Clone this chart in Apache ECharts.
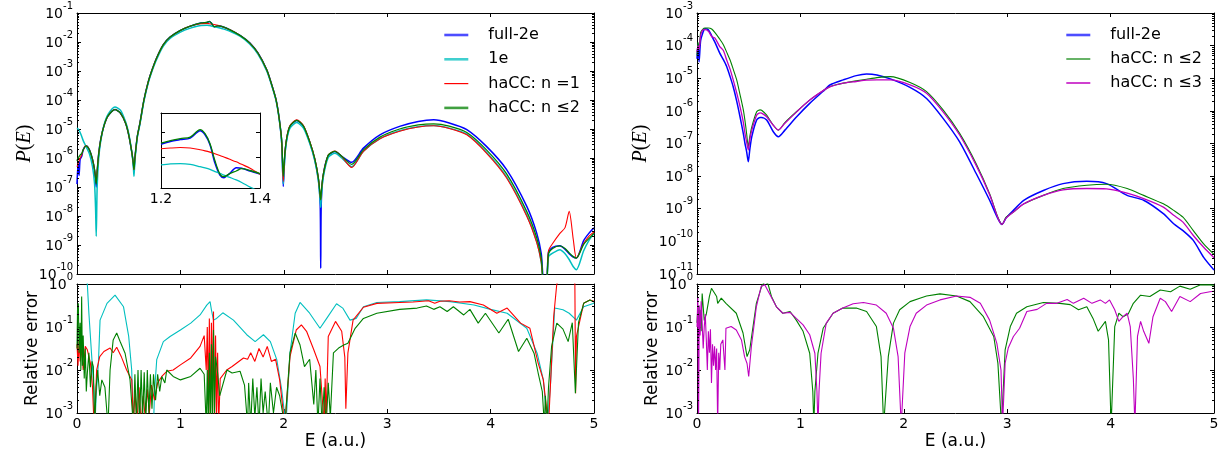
<!DOCTYPE html>
<html>
<head>
<meta charset="utf-8">
<script src="https://cdn.jsdelivr.net/npm/echarts@6.0.0/dist/echarts.min.js"></script>
<style>
  html, body { margin: 0; padding: 0; background: #fff; }
  #chart { width: 1222px; height: 456px; }
</style>
</head>
<body>
<div id="chart"></div>
<script>
// Photoelectron spectra P(E) (log10 values) and their relative errors.

// ---- left panel: full-2e, 1e, haCC n=1, haCC n<=2 ----
const energyLeft = [
  0, 0.01, 0.02, 0.03, 0.045, 0.06, 0.087, 0.12, 0.15, 0.17,
  0.18, 0.186, 0.195, 0.21, 0.23, 0.26, 0.3, 0.367, 0.42, 0.47,
  0.5, 0.53, 0.545, 0.551, 0.56, 0.583, 0.609, 0.648, 0.69, 0.722,
  0.77, 0.835, 0.9, 1.0, 1.09, 1.2, 1.259, 1.279, 1.299, 1.327, 1.363, 1.4, 1.48,
  1.58, 1.67, 1.75, 1.835, 1.883, 1.925, 1.957, 1.98, 1.995, 2.01,
  2.03, 2.06, 2.125, 2.19, 2.253, 2.3, 2.335, 2.352, 2.357, 2.362,
  2.38, 2.43, 2.495, 2.56, 2.656, 2.77, 2.93, 3.12, 3.3, 3.45,
  3.6, 3.77, 3.96, 4.155, 4.35, 4.446, 4.49, 4.515, 4.54, 4.56,
  4.6, 4.67, 4.72, 4.76, 4.8, 4.83, 4.9, 4.95, 5.0
];
const logFull2eLeft = [
  -6.9, -6.2, -6.6, -6.05, -5.95, -5.72, -5.58, -5.72, -6.05, -6.45,
  -6.8, -7.0, -6.5, -5.85, -5.35, -4.9, -4.55, -4.33, -4.45, -4.8,
  -5.2, -5.8, -6.2, -6.45, -6.0, -5.26, -4.79, -3.99, -3.36, -3.0,
  -2.55, -2.09, -1.83, -1.6, -1.46, -1.347, -1.323, -1.294, -1.349, -1.478, -1.441, -1.464, -1.58,
  -1.78, -2.03, -2.38, -2.96, -3.47, -3.99, -4.68, -5.48, -6.98, -5.9,
  -5.3, -4.91, -4.71, -4.91, -5.48, -6.06, -6.75, -7.6, -9.8, -7.6,
  -6.63, -5.92, -5.78, -5.94, -6.15, -5.66, -5.2, -4.91, -4.74, -4.68,
  -4.79, -5.02, -5.6, -6.4, -7.67, -8.59, -9.3, -10.3, -10.3, -9.25,
  -9.08, -9.03, -9.15, -9.3, -9.42, -9.45, -8.85, -8.6, -8.41
];
const log1eLeft = [
  -4.97, -5.0, -5.05, -5.12, -5.25, -5.4, -5.6, -5.85, -6.3, -6.9,
  -7.8, -8.7, -7.0, -6.0, -5.4, -4.88, -4.5, -4.24, -4.35, -4.75,
  -5.15, -5.8, -6.3, -6.63, -6.1, -5.3, -4.83, -4.03, -3.4, -3.04,
  -2.6, -2.14, -1.88, -1.66, -1.53, -1.428, -1.426, -1.435, -1.446, -1.468, -1.497, -1.534, -1.63,
  -1.81, -2.07, -2.42, -3.0, -3.5, -4.02, -4.7, -5.5, -6.9, -5.95,
  -5.35, -4.97, -4.78, -4.97, -5.52, -6.1, -6.8, -7.5, -7.7, -7.4,
  -6.7, -5.98, -5.84, -6.0, -6.3, -5.77, -5.33, -5.06, -4.92, -4.88,
  -4.97, -5.18, -5.8, -6.65, -7.97, -8.88, -9.6, -10.4, -10.4, -9.4,
  -9.28, -9.16, -9.3, -9.5, -9.75, -9.85, -9.2, -8.85, -8.6
];
const logHaccN1Left = [
  -6.3, -6.2, -6.1, -6.0, -5.9, -5.72, -5.58, -5.72, -6.05, -6.4,
  -6.7, -6.85, -6.45, -5.85, -5.35, -4.9, -4.55, -4.33, -4.45, -4.8,
  -5.2, -5.8, -6.2, -6.4, -6.0, -5.26, -4.79, -3.99, -3.36, -3.0,
  -2.55, -2.09, -1.83, -1.6, -1.46, -1.365, -1.362, -1.369, -1.378, -1.397, -1.426, -1.465, -1.58,
  -1.78, -2.03, -2.38, -2.96, -3.47, -3.99, -4.68, -5.45, -6.81, -5.85,
  -5.25, -4.88, -4.68, -4.88, -5.45, -6.02, -6.7, -7.3, -7.44, -7.2,
  -6.6, -5.9, -5.76, -5.95, -6.33, -5.77, -5.34, -5.08, -4.93, -4.89,
  -4.98, -5.2, -5.83, -6.69, -8.01, -8.92, -9.6, -10.4, -10.4, -9.2,
  -8.95, -8.6, -8.4, -7.84, -8.82, -9.45, -8.95, -8.7, -8.55
];
const logHaccN2Left = [
  -6.1, -6.0, -5.95, -5.9, -5.85, -5.72, -5.58, -5.72, -6.05, -6.4,
  -6.7, -6.9, -6.45, -5.85, -5.35, -4.9, -4.55, -4.33, -4.45, -4.8,
  -5.2, -5.8, -6.2, -6.4, -6.0, -5.26, -4.79, -3.99, -3.36, -3.0,
  -2.55, -2.09, -1.83, -1.6, -1.46, -1.343, -1.319, -1.29, -1.345, -1.474, -1.443, -1.462, -1.58,
  -1.78, -2.03, -2.38, -2.96, -3.47, -3.99, -4.68, -5.4, -6.63, -5.85,
  -5.28, -4.9, -4.7, -4.9, -5.46, -6.03, -6.7, -7.3, -7.44, -7.2,
  -6.6, -5.9, -5.77, -5.94, -6.22, -5.72, -5.28, -5.0, -4.86, -4.82,
  -4.9, -5.12, -5.72, -6.55, -7.85, -8.75, -9.45, -10.4, -10.4, -9.3,
  -9.12, -9.03, -9.12, -9.27, -9.4, -9.45, -8.98, -8.78, -8.6
];

// ---- inset: the main peak between E = 1.2 and 1.4 ----
const energyInset = [1.2, 1.219, 1.239, 1.259, 1.279, 1.289, 1.299, 1.309, 1.319, 1.327, 1.339, 1.352, 1.363, 1.38, 1.4];
const logFull2eInset = [-1.347, -1.336, -1.329, -1.323, -1.294, -1.31, -1.349, -1.421, -1.468, -1.478, -1.461, -1.439, -1.441, -1.452, -1.464];
const log1eInset     = [-1.428, -1.424, -1.423, -1.426, -1.435, -1.44, -1.446, -1.454, -1.461, -1.468, -1.477, -1.487, -1.497, -1.515, -1.534];
const logHaccN1Inset = [-1.365, -1.362, -1.36, -1.362, -1.369, -1.373, -1.378, -1.384, -1.391, -1.397, -1.406, -1.416, -1.426, -1.441, -1.465];
const logHaccN2Inset = [-1.343, -1.333, -1.325, -1.319, -1.29, -1.306, -1.345, -1.412, -1.464, -1.474, -1.462, -1.452, -1.443, -1.45, -1.462];
const insetTicks = [0.04, 0.05];

// ---- left relative errors: [E, log10(error)] ----
const relErr1e = [
  [0,0.6],[0.05,0.5],[0.09,0.1],[0.1,0],[0.115,-0.68],[0.14,-1.6],[0.165,-2.5],[0.174,-3.3],[0.185,-2.6],
  [0.207,-1.84],[0.223,-0.84],[0.29,-0.45],[0.368,-0.26],[0.45,-0.53],[0.5,-1.22],[0.529,-2.0],[0.545,-3.3],
  [0.74,-3.3],[0.75,-2.5],[0.771,-1.76],[0.835,-1.34],[0.9,-1.22],[1.0,-1.07],[1.1,-0.91],[1.19,-0.72],
  [1.255,-0.49],[1.287,-0.41],[1.3,-0.6],[1.32,-0.84],[1.35,-0.8],[1.41,-0.67],[1.513,-0.84],[1.642,-1.18],
  [1.723,-1.34],[1.803,-1.18],[1.87,-1.34],[1.932,-1.76],[1.98,-2.46],[2.02,-3.3],[2.06,-1.6],[2.11,-0.68],
  [2.157,-0.43],[2.25,-0.68],[2.35,-1.03],[2.415,-0.8],[2.51,-0.46],[2.57,-0.56],[2.64,-0.84],[2.7,-0.8],
  [2.77,-0.53],[2.9,-0.43],[3.12,-0.41],[3.38,-0.37],[3.61,-0.41],[3.84,-0.49],[4.0,-0.59],[4.16,-0.68],
  [4.35,-1.03],[4.45,-1.61],[4.51,-2.23],[4.55,-3.3],[4.58,-2.3],[4.62,-0.56],[4.7,-0.6],[4.76,-0.68],
  [4.83,-0.84],[4.9,-0.53],[5.0,-0.45]
];
const relErrN1 = [
  [0,-1.4],[0.01,-1.9],[0.02,-1.3],[0.03,-1.8],[0.045,-1.5],[0.06,-2.0],[0.08,-1.45],[0.1,-1.53],[0.13,-1.84],
  [0.15,-2.4],[0.165,-3.3],[0.175,-2.9],[0.19,-2.0],[0.22,-1.69],[0.26,-1.57],[0.32,-1.49],[0.35,-1.6],
  [0.384,-1.47],[0.43,-1.7],[0.48,-2.0],[0.53,-2.23],[0.545,-3.3],[0.56,-2.5],[0.58,-3.2],[0.6,-2.4],
  [0.62,-3.3],[0.64,-2.6],[0.66,-3.1],[0.68,-2.45],[0.7,-3.0],[0.72,-2.35],[0.75,-2.7],[0.78,-2.3],
  [0.82,-2.15],[0.868,-2.03],[0.93,-2.0],[1.0,-1.88],[1.1,-1.72],[1.19,-1.45],[1.23,-1.2],[1.25,-2.0],
  [1.26,-1.0],[1.27,-2.8],[1.28,-0.8],[1.29,-3.3],[1.3,-0.9],[1.31,-2.5],[1.32,-0.64],[1.33,-3.3],
  [1.34,-1.2],[1.35,-3.0],[1.36,-1.6],[1.37,-3.3],[1.385,-2.2],[1.448,-2.0],[1.5,-1.92],[1.61,-1.72],
  [1.65,-1.75],[1.68,-1.6],[1.72,-1.8],[1.76,-1.5],[1.8,-1.7],[1.84,-1.45],[1.88,-1.8],[1.92,-1.75],
  [1.96,-2.23],[2.01,-3.3],[2.06,-1.69],[2.12,-1.07],[2.17,-0.95],[2.22,-1.1],[2.29,-1.53],[2.35,-1.92],
  [2.37,-2.6],[2.39,-3.3],[2.4,-2.2],[2.41,-3.1],[2.43,-1.22],[2.5,-0.87],[2.56,-1.1],[2.59,-1.7],
  [2.6,-2.9],[2.62,-1.6],[2.67,-0.84],[2.77,-0.54],[2.9,-0.45],[3.12,-0.43],[3.25,-0.42],[3.4,-0.39],
  [3.46,-0.45],[3.51,-0.4],[3.6,-0.39],[3.7,-0.42],[3.8,-0.41],[3.93,-0.49],[4.06,-0.68],[4.16,-0.56],
  [4.29,-0.91],[4.38,-1.03],[4.46,-1.84],[4.51,-2.23],[4.56,-3.3],[4.61,-0.76],[4.64,0.0],[4.7,0.3],
  [4.8,0.3],[4.815,0.0],[4.822,-2.54],[4.83,-1.22],[4.9,-0.45],[4.96,-0.37],[5.0,-0.4]
];
const relErrN2Left = [
  [0,-1.5],[0.005,-0.6],[0.013,-0.45],[0.02,-1.6],[0.03,-0.9],[0.037,-2.0],[0.045,-0.29],[0.052,-1.9],
  [0.06,-1.2],[0.07,-2.2],[0.08,-1.5],[0.09,-2.5],[0.1,-2.07],[0.115,-1.6],[0.13,-2.4],[0.145,-1.8],
  [0.158,-1.92],[0.17,-3.3],[0.185,-2.4],[0.2,-2.0],[0.22,-2.6],[0.24,-2.23],[0.27,-2.4],[0.29,-3.0],
  [0.3,-3.3],[0.32,-2.0],[0.35,-1.3],[0.384,-1.14],[0.416,-1.33],[0.465,-1.61],[0.513,-2.23],[0.545,-3.3],
  [0.56,-2.1],[0.575,-3.2],[0.59,-2.0],[0.605,-3.3],[0.62,-2.0],[0.635,-3.1],[0.65,-2.05],[0.665,-3.2],
  [0.68,-2.0],[0.695,-3.0],[0.71,-2.1],[0.725,-2.9],[0.74,-2.1],[0.76,-2.7],[0.78,-2.1],[0.8,-2.5],
  [0.82,-2.15],[0.85,-2.3],[0.868,-2.0],[0.93,-2.15],[1.0,-2.23],[1.1,-2.15],[1.19,-1.96],[1.23,-2.1],
  [1.25,-3.3],[1.26,-2.0],[1.27,-3.3],[1.28,-1.6],[1.29,-3.3],[1.3,-1.4],[1.31,-3.3],[1.32,-1.07],
  [1.33,-3.0],[1.34,-1.69],[1.36,-2.07],[1.38,-2.6],[1.45,-2.0],[1.5,-2.07],[1.577,-2.03],[1.62,-2.35],
  [1.65,-3.3],[1.66,-2.3],[1.68,-3.3],[1.7,-2.2],[1.72,-3.1],[1.74,-2.4],[1.76,-3.3],[1.78,-2.2],
  [1.8,-3.0],[1.82,-2.5],[1.85,-3.3],[1.87,-2.3],[1.9,-3.0],[1.93,-2.4],[1.96,-2.6],[2.01,-3.3],
  [2.06,-1.6],[2.11,-1.14],[2.157,-1.42],[2.2,-1.92],[2.25,-1.75],[2.29,-2.8],[2.31,-2.0],[2.33,-3.3],
  [2.35,-2.2],[2.37,-3.3],[2.39,-2.4],[2.41,-3.3],[2.43,-2.3],[2.45,-3.1],[2.48,-1.6],[2.53,-1.49],
  [2.58,-1.42],[2.62,-1.38],[2.69,-1.03],[2.77,-0.8],[2.9,-0.68],[3.12,-0.59],[3.29,-0.56],[3.38,-0.51],
  [3.45,-0.59],[3.51,-0.53],[3.58,-0.64],[3.64,-0.53],[3.74,-0.72],[3.8,-0.59],[3.88,-0.91],[3.95,-0.68],
  [4.08,-1.14],[4.17,-0.82],[4.27,-1.57],[4.35,-1.26],[4.42,-1.61],[4.46,-2.07],[4.5,-2.5],[4.52,-3.3],
  [4.53,-2.6],[4.545,-3.3],[4.56,-2.4],[4.59,-1.45],[4.64,-0.91],[4.7,-1.05],[4.75,-1.34],[4.79,-0.9],
  [4.82,-2.54],[4.85,-0.9],[4.9,-0.45],[4.96,-0.37],[5.0,-0.42]
];

// ---- right panel: full-2e, haCC n<=2, haCC n<=3 ----
const energyRight = [
  0, 0.01, 0.02, 0.035, 0.055, 0.077, 0.11, 0.142, 0.174, 0.22,
  0.255, 0.287, 0.32, 0.35, 0.384, 0.416, 0.448, 0.464, 0.48, 0.496,
  0.51, 0.53, 0.577, 0.61, 0.625, 0.674, 0.738, 0.787, 0.85, 0.964,
  1.09, 1.22, 1.29, 1.415, 1.54, 1.64, 1.74, 1.87, 2.06, 2.22,
  2.38, 2.54, 2.70, 2.83, 2.91, 2.95, 2.99, 3.06, 3.16, 3.35,
  3.54, 3.77, 3.96, 4.16, 4.32, 4.51, 4.61, 4.70, 4.80, 4.90,
  5.0
];
const logFull2eRight = [
  -4.4, -3.95, -4.5, -3.85, -3.62, -3.48, -3.51, -3.7, -3.9, -4.23,
  -4.43, -4.64, -4.95, -5.26, -5.7, -6.18, -6.7, -7.0, -7.25, -7.56,
  -7.2, -6.79, -6.28, -6.2, -6.2, -6.28, -6.64, -6.79, -6.59, -6.18,
  -5.77, -5.4, -5.2, -5.05, -4.92, -4.87, -4.9, -5.02, -5.28, -5.62,
  -6.23, -6.95, -7.92, -8.74, -9.3, -9.48, -9.28, -9.05, -8.74, -8.44,
  -8.23, -8.16, -8.23, -8.59, -8.74, -9.15, -9.46, -9.67, -9.97, -10.49,
  -10.88
];
const logHaccN2Right = [
  -4.3, -3.9, -4.1, -3.6, -3.5, -3.46, -3.46, -3.49, -3.6, -3.8,
  -3.97, -4.2, -4.44, -4.72, -5.05, -5.5, -5.97, -6.3, -6.7, -7.1,
  -6.8, -6.49, -6.03, -5.97, -5.98, -6.13, -6.44, -6.59, -6.36, -6.02,
  -5.67, -5.38, -5.25, -5.15, -5.08, -5.03, -4.98, -4.95, -5.13, -5.41,
  -5.97, -6.69, -7.62, -8.54, -9.26, -9.48, -9.26, -9.1, -8.85, -8.59,
  -8.38, -8.28, -8.25, -8.38, -8.59, -8.85, -9.05, -9.26, -9.67, -10.08,
  -10.4
];
const logHaccN3Right = [
  -4.2, -4.0, -4.13, -3.7, -3.52, -3.51, -3.56, -3.72, -3.77, -4.03,
  -4.15, -4.44, -4.72, -5.05, -5.45, -5.87, -6.35, -6.69, -6.95, -7.2,
  -6.9, -6.59, -6.13, -6.06, -6.07, -6.18, -6.44, -6.59, -6.38, -6.03,
  -5.67, -5.38, -5.26, -5.15, -5.1, -5.06, -5.05, -5.05, -5.2, -5.46,
  -6.03, -6.74, -7.67, -8.57, -9.28, -9.48, -9.28, -9.1, -8.85, -8.59,
  -8.42, -8.38, -8.39, -8.52, -8.69, -8.95, -9.2, -9.41, -9.82, -10.18,
  -10.5
];

// ---- right relative errors: [E, log10(error)] ----
const relErrN2Right = [
  [0,-0.9],[0.01,-0.5],[0.02,-1.0],[0.03,-0.6],[0.04,-1.1],[0.05,-0.22],[0.07,-0.85],[0.09,-0.7],
  [0.12,-0.29],[0.14,-0.1],[0.19,-0.29],[0.2,-0.45],[0.235,-0.33],[0.28,-0.45],[0.38,-0.68],[0.445,-1.14],
  [0.484,-1.69],[0.51,-1.53],[0.574,-0.45],[0.63,-0.02],[0.66,0.05],[0.687,0.0],[0.72,-0.29],[0.768,-0.53],
  [0.83,-0.68],[0.9,-0.64],[0.96,-0.84],[1.026,-1.1],[1.09,-1.61],[1.12,-2.5],[1.13,-3.3],[1.14,-2.5],
  [1.17,-1.61],[1.22,-1.03],[1.316,-0.68],[1.41,-0.56],[1.54,-0.56],[1.64,-0.64],[1.735,-0.99],[1.78,-1.69],
  [1.805,-3.3],[1.815,-3.3],[1.85,-1.69],[1.9,-0.91],[1.96,-0.6],[2.06,-0.41],[2.155,-0.33],[2.22,-0.28],
  [2.35,-0.23],[2.51,-0.28],[2.64,-0.41],[2.77,-0.76],[2.87,-1.22],[2.91,-1.84],[2.945,-3.3],[2.955,-3.3],
  [2.98,-1.53],[3.03,-0.99],[3.09,-0.68],[3.19,-0.53],[3.35,-0.43],[3.51,-0.45],[3.61,-0.48],[3.69,-0.6],
  [3.77,-0.53],[3.83,-0.8],[3.88,-1.1],[3.95,-0.87],[3.98,-1.3],[4.005,-3.3],[4.015,-3.3],[4.04,-0.99],
  [4.08,-0.68],[4.12,-0.76],[4.17,-0.7],[4.22,-0.45],[4.29,-0.26],[4.38,-0.29],[4.48,-0.14],[4.58,-0.18],
  [4.67,-0.05],[4.77,-0.12],[4.87,-0.02],[4.96,-0.02],[5.0,-0.03]
];
const relErrN3Right = [
  [0,-1.0],[0.008,-0.3],[0.015,-3.3],[0.022,-0.5],[0.03,-1.2],[0.04,-0.4],[0.05,-0.9],[0.06,-1.5],
  [0.07,-1.0],[0.08,-0.7],[0.09,-1.3],[0.1,-2.0],[0.11,-1.1],[0.12,-1.6],[0.13,-1.05],[0.14,-2.3],
  [0.15,-1.4],[0.16,-1.9],[0.17,-1.45],[0.18,-2.0],[0.19,-1.5],[0.2,-3.3],[0.21,-1.6],[0.22,-2.0],
  [0.23,-1.4],[0.25,-1.3],[0.27,-2.0],[0.28,-1.03],[0.33,-0.99],[0.38,-1.07],[0.43,-1.3],[0.46,-1.69],
  [0.484,-1.85],[0.5,-2.15],[0.526,-1.45],[0.574,-0.53],[0.62,-0.06],[0.655,-0.02],[0.7,-0.22],[0.768,-0.53],
  [0.83,-0.68],[0.9,-0.66],[0.96,-0.8],[1.026,-0.95],[1.09,-1.18],[1.14,-1.61],[1.16,-2.5],[1.17,-3.3],
  [1.18,-2.5],[1.2,-1.61],[1.25,-0.91],[1.316,-0.68],[1.41,-0.56],[1.51,-0.46],[1.61,-0.43],[1.735,-0.49],
  [1.83,-0.68],[1.9,-1.03],[1.945,-1.69],[1.975,-3.3],[1.985,-3.3],[2.01,-1.6],[2.06,-0.99],[2.12,-0.68],
  [2.22,-0.49],[2.35,-0.37],[2.51,-0.28],[2.64,-0.31],[2.74,-0.45],[2.83,-0.84],[2.9,-1.38],[2.94,-2.0],
  [2.955,-3.3],[2.965,-3.3],[2.98,-1.84],[3.01,-1.49],[3.06,-1.22],[3.12,-1.03],[3.19,-0.64],[3.29,-0.59],
  [3.38,-0.45],[3.48,-0.45],[3.58,-0.36],[3.64,-0.45],[3.74,-0.33],[3.82,-0.45],[3.9,-0.37],[3.95,-0.45],
  [3.99,-0.37],[4.04,-0.6],[4.08,-0.87],[4.12,-0.76],[4.16,-0.68],[4.19,-0.99],[4.22,-2.2],[4.235,-3.3],
  [4.245,-3.3],[4.26,-1.22],[4.29,-0.87],[4.32,-1.1],[4.37,-1.38],[4.41,-0.76],[4.48,-0.33],[4.53,-0.41],
  [4.59,-0.64],[4.67,-0.29],[4.77,-0.41],[4.87,-0.22],[4.96,-0.18],[5.0,-0.17]
];

// ---- helpers ----
const FONT = 'DejaVu Sans';
const C = { blue: '#0000ff', cyan: '#00bfbf', red: '#ff0000', green: '#008000', magenta: '#bf00bf' };

function curve(E, logs) {
  if (E.length !== logs.length) throw new Error('length mismatch ' + E.length + ' vs ' + logs.length);
  return E.map((e, i) => [e, Math.pow(10, logs[i])]);
}
function pairs(list) { return list.map(p => [p[0], Math.pow(10, p[1])]); }

function line(name, data, color, width, g, smooth) {
  return {
    type: 'line', name, data, xAxisIndex: 2 * g, yAxisIndex: 2 * g,
    symbol: 'none', showSymbol: false, smooth: smooth || false, clip: true,
    lineStyle: { color, width }, itemStyle: { color }, emphasis: { disabled: true },
    silent: true, z: 3
  };
}

// minor ticks m*10^k for a log axis
function minorTicks(kLo, kHi) {
  const t = [];
  for (let k = kLo; k < kHi; k++) for (let m = 2; m <= 9; m++) t.push(m * Math.pow(10, k));
  return t;
}
function tickSeries(g, values, x0, x1, len) {
  return {
    type: 'custom', coordinateSystem: 'cartesian2d', xAxisIndex: 2 * g, yAxisIndex: 2 * g,
    silent: true, z: 6, clip: false,
    data: values.map(v => [x0, v]),
    renderItem: (params, api) => {
      const v = api.value(1);
      const a = api.coord([x0, v]);
      const b = api.coord([x1, v]);
      const y = Math.round(a[1]) + 0.5;
      return {
        type: 'group', children: [
          { type: 'line', shape: { x1: a[0], y1: y, x2: a[0] + len, y2: y }, style: { stroke: '#000', lineWidth: 1 } },
          { type: 'line', shape: { x1: b[0], y1: y, x2: b[0] - len, y2: y }, style: { stroke: '#000', lineWidth: 1 } }
        ]
      };
    }
  };
}

const axisLine = { show: true, onZero: false, lineStyle: { color: '#000', width: 1 } };
const majorTick = { show: true, inside: true, length: 4, lineStyle: { color: '#000', width: 1 } };

function xAxes(g, min, max, interval, labels, name) {
  const base = { type: 'value', gridIndex: g, min, max, interval, splitLine: { show: false }, axisLine, axisTick: majorTick };
  return [
    Object.assign({}, base, {
      position: 'bottom',
      axisLabel: labels ? { show: true, color: '#000', fontFamily: FONT, fontSize: 14, margin: 4,
        formatter: v => (interval < 1 ? v.toFixed(1) : String(v)) } : { show: false },
      name: name || '', nameLocation: 'middle', nameGap: 20,
      nameTextStyle: { color: '#000', fontFamily: FONT, fontSize: 17 }
    }),
    Object.assign({}, base, { position: 'top', axisLabel: { show: false } })
  ];
}

const logLabel = {
  show: true, margin: 4, padding: [0, 0, 4, 0],
  formatter: v => '{b|10}{s|' + Math.round(Math.log10(v)) + '}',
  rich: {
    b: { fontFamily: FONT, fontSize: 14, lineHeight: 20, verticalAlign: 'bottom', color: '#000' },
    s: { fontFamily: FONT, fontSize: 10, lineHeight: 12, verticalAlign: 'top', color: '#000' }
  }
};
const serifRich = {
  i: { fontFamily: 'Liberation Serif', fontStyle: 'italic', fontSize: 20, color: '#000' },
  r: { fontFamily: 'Liberation Serif', fontSize: 20, color: '#000' }
};

function yAxes(g, min, max, opts) {
  opts = opts || {};
  const base = { type: 'log', logBase: 10, gridIndex: g, min, max, splitLine: { show: false }, axisLine,
    axisTick: opts.noTicks ? { show: false } : majorTick };
  const left = Object.assign({}, base, {
    position: 'left',
    axisLabel: opts.noLabels ? { show: false } : logLabel,
    name: opts.name || '', nameLocation: 'middle', nameGap: opts.nameGap || 40,
    nameTextStyle: opts.serif ? { rich: serifRich } : { color: '#000', fontFamily: FONT, fontSize: 17 }
  });
  const right = Object.assign({}, base, { position: 'right', axisLabel: { show: false } });
  return [left, right];
}

// ---- layout ----
const grids = [
  { left: 77, top: 13, width: 517, height: 261 },   // left P(E)
  { left: 77, top: 284, width: 517, height: 129 },  // left relative error
  { left: 697, top: 13, width: 517, height: 261 },  // right P(E)
  { left: 697, top: 284, width: 517, height: 129 }, // right relative error
  { left: 161, top: 113, width: 99, height: 75, show: true, backgroundColor: '#fff', borderWidth: 0 } // inset
].map(g => Object.assign({ containLabel: false, outerBoundsMode: 'none' }, g));

const xAxis = [].concat(
  xAxes(0, 0, 5, 1, false),
  xAxes(1, 0, 5, 1, true, 'E (a.u.)'),
  xAxes(2, 0, 5, 1, false),
  xAxes(3, 0, 5, 1, true, 'E (a.u.)'),
  xAxes(4, 1.2, 1.4, 0.2, true)
);
const yAxis = [].concat(
  yAxes(0, 1e-10, 1e-1, { name: '{i|P}{r|(}{i|E}{r|)}', serif: true, nameGap: 40 }),
  yAxes(1, 1e-3, 1, { name: 'Relative error', nameGap: 36 }),
  yAxes(2, 1e-11, 1e-3, { name: '{i|P}{r|(}{i|E}{r|)}', serif: true, nameGap: 46 }),
  yAxes(3, 1e-3, 1, { name: 'Relative error', nameGap: 36 }),
  yAxes(4, 0.0303, 0.0596, { noLabels: true, noTicks: true })
);

const series = [
  line('full-2e', curve(energyLeft, logFull2eLeft), C.blue, 1.5, 0, 0.25),
  line('1e', curve(energyLeft, log1eLeft), C.cyan, 1.5, 0, 0.25),
  line('haCC: n =1', curve(energyLeft, logHaccN1Left), C.red, 1.1, 0, 0.25),
  line('haCC: n ≤2', curve(energyLeft, logHaccN2Left), C.green, 1.3, 0, 0.25),

  line('1e', pairs(relErr1e), C.cyan, 1.1, 1),
  line('haCC: n =1', pairs(relErrN1), C.red, 1.1, 1),
  line('haCC: n ≤2', pairs(relErrN2Left), C.green, 1.1, 1),

  line('full-2e', curve(energyRight, logFull2eRight), C.blue, 1.5, 2, 0.25),
  line('haCC: n ≤2', curve(energyRight, logHaccN2Right), C.green, 1.1, 2, 0.25),
  line('haCC: n ≤3', curve(energyRight, logHaccN3Right), C.magenta, 1.3, 2, 0.25),

  line('haCC: n ≤2', pairs(relErrN2Right), C.green, 1.1, 3),
  line('haCC: n ≤3', pairs(relErrN3Right), C.magenta, 1.1, 3),

  line('full-2e', curve(energyInset, logFull2eInset), C.blue, 1.5, 4, 0.3),
  line('1e', curve(energyInset, log1eInset), C.cyan, 1.3, 4, 0.3),
  line('haCC: n =1', curve(energyInset, logHaccN1Inset), C.red, 1.1, 4, 0.3),
  line('haCC: n ≤2', curve(energyInset, logHaccN2Inset), C.green, 1.3, 4, 0.3),

  tickSeries(0, minorTicks(-10, -1), 0, 5, 2),
  tickSeries(1, minorTicks(-3, 0), 0, 5, 2),
  tickSeries(2, minorTicks(-11, -3), 0, 5, 2),
  tickSeries(3, minorTicks(-3, 0), 0, 5, 2),
  tickSeries(4, insetTicks, 1.2, 1.4, 4)
];

// legend keys are plain line segments (no point marker)
const hideMarker = { opacity: 0 };
const legendText = { color: '#000', fontFamily: FONT, fontSize: 16, lineHeight: 16, padding: [0, 0, 0, 15] };
const legend = [
  {
    orient: 'vertical', left: 443, top: 27, padding: 0, itemWidth: 24, itemHeight: 14, itemGap: 8.3,
    selectedMode: false, textStyle: legendText, itemStyle: hideMarker,
    data: [
      { name: 'full-2e', itemStyle: hideMarker, lineStyle: { width: 2.6, color: '#4d4dff' } },
      { name: '1e', itemStyle: hideMarker, lineStyle: { width: 2.6, color: '#40cfcf' } },
      { name: 'haCC: n =1', itemStyle: hideMarker, lineStyle: { width: 1.2, color: C.red } },
      { name: 'haCC: n ≤2', itemStyle: hideMarker, lineStyle: { width: 2.6, color: '#40a040' } }
    ]
  },
  {
    orient: 'vertical', left: 1065, top: 27, padding: 0, itemWidth: 24, itemHeight: 14, itemGap: 8,
    selectedMode: false, textStyle: legendText, itemStyle: hideMarker,
    data: [
      { name: 'full-2e', itemStyle: hideMarker, lineStyle: { width: 2.6, color: '#4d4dff' } },
      { name: 'haCC: n ≤2', itemStyle: hideMarker, lineStyle: { width: 1.2, color: C.green } },
      { name: 'haCC: n ≤3', itemStyle: hideMarker, lineStyle: { width: 2, color: '#cf40cf' } }
    ]
  }
];

const chart = echarts.init(document.getElementById('chart'), null, { renderer: 'canvas' });
chart.setOption({
  animation: false,
  backgroundColor: '#fff',
  textStyle: { fontFamily: FONT },
  grid: grids, xAxis, yAxis, legend, series
});
</script>
</body>
</html>
